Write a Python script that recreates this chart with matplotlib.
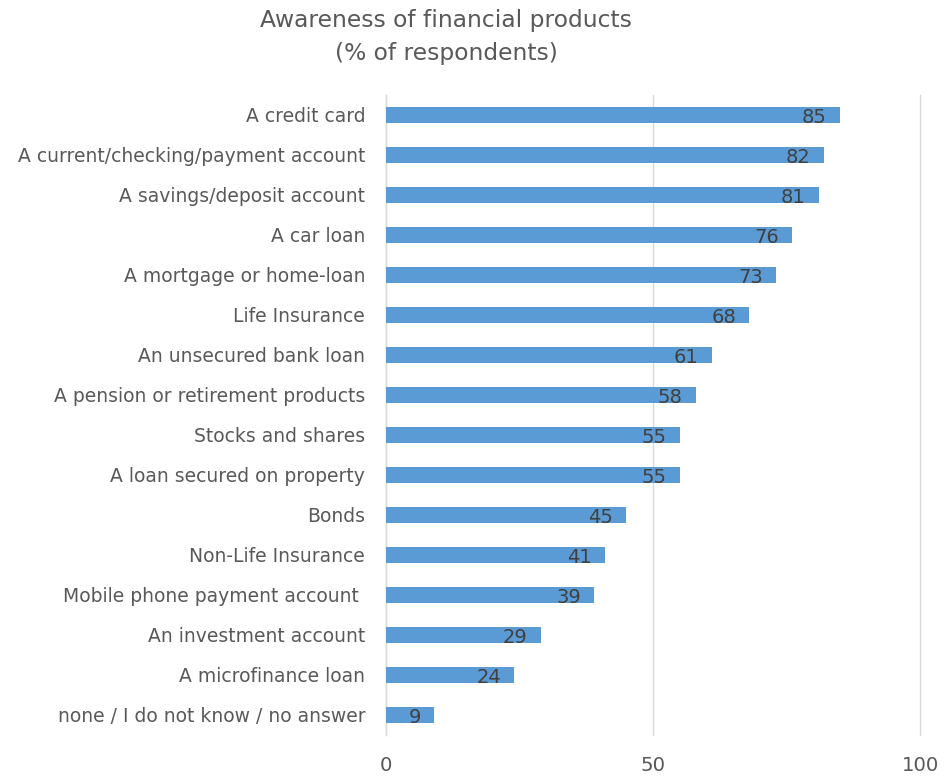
import matplotlib
matplotlib.use("Agg")
import matplotlib.pyplot as plt

products = [
    "A credit card",
    "A current/checking/payment account",
    "A savings/deposit account",
    "A car loan",
    "A mortgage or home-loan",
    "Life Insurance",
    "An unsecured bank loan",
    "A pension or retirement products",
    "Stocks and shares",
    "A loan secured on property",
    "Bonds",
    "Non-Life Insurance",
    "Mobile phone payment account ",
    "An investment account",
    "A microfinance loan",
    "none / I do not know / no answer",
]
awareness = [85, 82, 81, 76, 73, 68, 61, 58, 55, 55, 45, 41, 39, 29, 24, 9]
xticks = [0, 50, 100]

BLUE, GRID, TXT, LBL = "#5B9BD5", "#D9D9D9", "#595959", "#404040"
plt.rcParams["font.family"] = "DejaVu Sans"

fig = plt.figure(figsize=(9.47, 7.81), dpi=100)
ax = fig.add_axes([0.4076, 0.0589, 0.9715 - 0.4076, 0.8784 - 0.0589])

y = list(range(len(products)))
ax.barh(y, awareness, height=0.42, color=BLUE, zorder=3)
for yi, v in zip(y, awareness):
    ax.annotate(f"{v}", xy=(v, yi), xytext=(-9.5, -2), textcoords="offset points",
                ha="right", va="center", fontsize=14, color=LBL, zorder=4)

ax.set_xlim(0, 100)
ax.set_ylim(len(products) - 0.5, -0.5)
ax.set_yticks(y, products)
ax.set_xticks(xticks)
ax.tick_params(axis="y", length=0, pad=15, labelsize=13.5, labelcolor=TXT)
ax.tick_params(axis="x", length=0, pad=15, labelsize=14.2, labelcolor=TXT)
ax.grid(axis="x", color=GRID, lw=1, zorder=0)
for gl in ax.get_xgridlines():
    gl.set_clip_on(False)
for s in ("top", "right", "bottom"):
    ax.spines[s].set_visible(False)
ax.spines["left"].set_color(GRID)
ax.spines["left"].set_linewidth(1)

fig.text(0.471, 0.988, "Awareness of financial products\n(% of respondents)",
         ha="center", va="top", fontsize=16.8, color=TXT, linespacing=1.55)

fig.savefig("out.png", dpi=100)
